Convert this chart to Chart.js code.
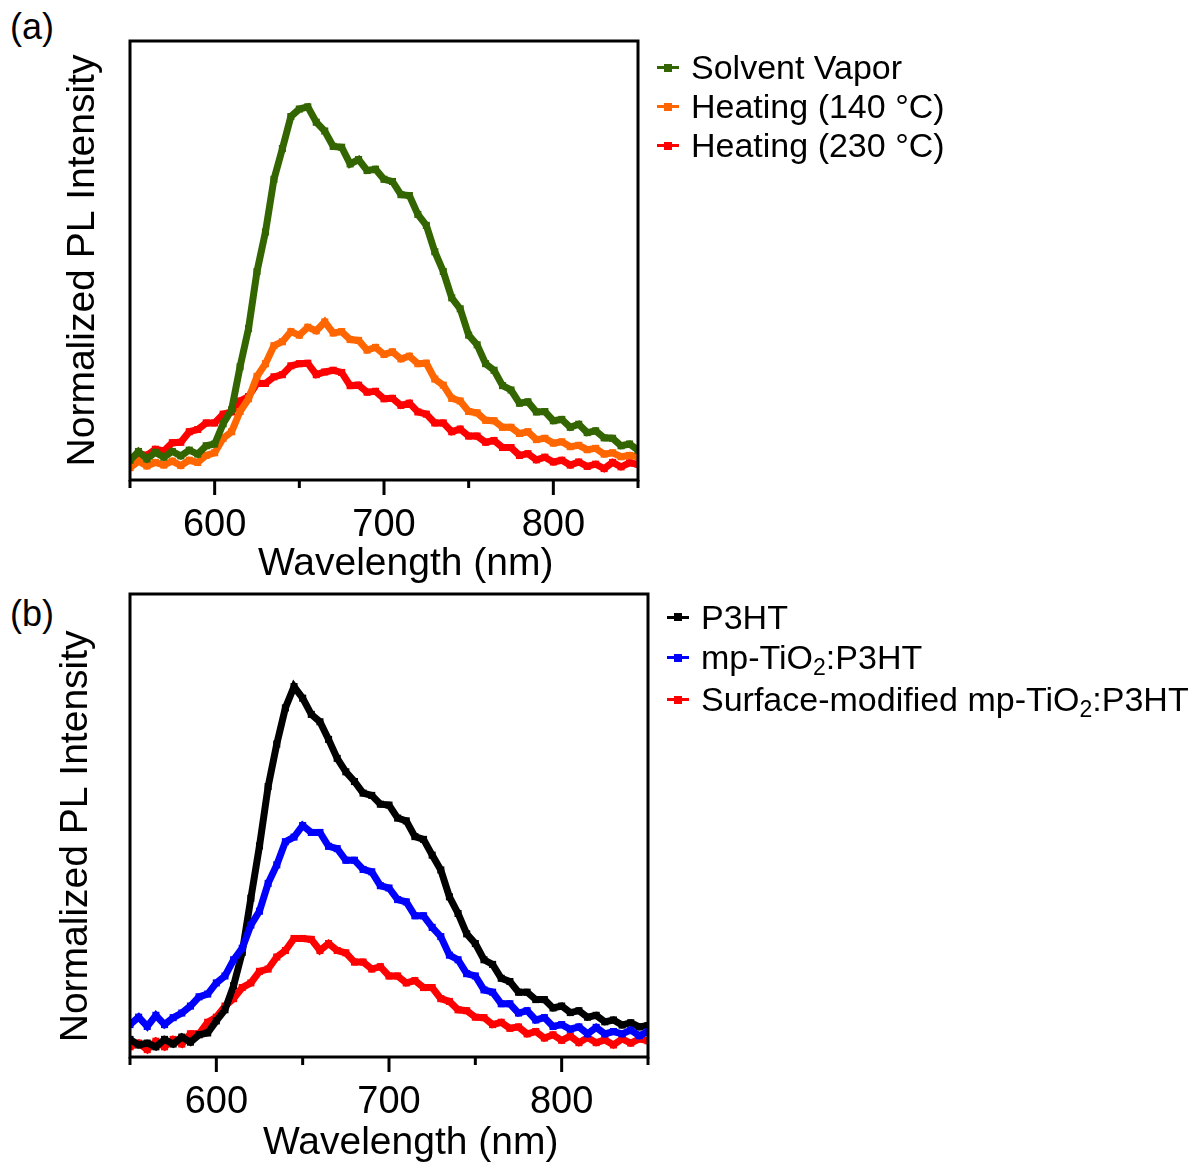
<!DOCTYPE html>
<html>
<head>
<meta charset="utf-8">
<script src="https://cdn.jsdelivr.net/npm/chart.js@4.4.1/dist/chart.umd.min.js"></script>
<style>
  body { margin: 0; background: #fff; overflow: hidden; font-family: "Liberation Sans", Arial, sans-serif; }
  canvas { position: absolute; left: 0; }
  .tag { position: absolute; left: 10px; font-size: 36px; line-height: 36px; }
  .legend { position: absolute; font-size: 34px; color: #000; }
  .legend .row { display: flex; align-items: center; white-space: nowrap; }
  .legend .mark { position: relative; width: 22px; height: 3px; margin-right: 12px; }
  .legend .mark::after { content: ""; position: absolute; left: 7px; top: -2.5px; width: 8px; height: 8px; background: inherit; }
  .legend sub { font-size: 23px; line-height: 0; vertical-align: baseline; position: relative; top: 9px; }
</style>
</head>
<body>
<div class="tag" style="top:9px">(a)</div>
<div class="tag" style="top:596px">(b)</div>
<canvas id="chartA" width="660" height="590" style="top:0"></canvas>
<canvas id="chartB" width="670" height="600" style="top:580px"></canvas>

<div class="legend" style="left:657px; top:48px">
  <div class="row" style="height:39px"><span class="mark" style="background:#336600"></span>Solvent Vapor</div>
  <div class="row" style="height:39px"><span class="mark" style="background:#ff6600"></span>Heating (140 °C)</div>
  <div class="row" style="height:39px"><span class="mark" style="background:#ff0000"></span>Heating (230 °C)</div>
</div>
<div class="legend" style="left:667px; top:597px">
  <div class="row" style="height:40px"><span class="mark" style="background:#000000"></span>P3HT</div>
  <div class="row" style="height:41px"><span class="mark" style="background:#0000ff"></span>mp-TiO<sub>2</sub>:P3HT</div>
  <div class="row" style="height:43px"><span class="mark" style="background:#ff0000"></span>Surface-modified mp-TiO<sub>2</sub>:P3HT</div>
</div>

<script>
// Wavelength grid (nm), shared by every spectrum
const wavelength = [550, 555, 560, 565, 570, 575, 580, 585, 590, 595,
  600, 605, 610, 615, 620, 625, 630, 635, 640, 645,
  650, 655, 660, 665, 670, 675, 680, 685, 690, 695,
  700, 705, 710, 715, 720, 725, 730, 735, 740, 745,
  750, 755, 760, 765, 770, 775, 780, 785, 790, 795,
  800, 805, 810, 815, 820, 825, 830, 835, 840, 845, 850];

// Panel (a) (arb. units, 0-100 of plot height)
const solventVapor = [4.5, 6.5, 4.8, 6.3, 5.2, 6.5, 5.5, 6.8, 5.9, 7.8,
  8.2, 12.8, 16, 25.8, 34.5, 47.5, 56.5, 68.5, 75.5, 82.8,
  84.5, 85, 81.5, 79.5, 76, 75.8, 72, 73, 70.5, 70.8,
  68.5, 68, 65, 64.8, 60.5, 58, 52, 47.5, 41.5, 39,
  33, 30.8, 26.5, 25, 21.5, 20.5, 17.5, 17.8, 15.5, 15.6,
  13.5, 13.8, 12, 12.7, 10.8, 11.2, 9.6, 9.5, 7.8, 8.2, 6.8];
const heating140 = [2.8, 4.3, 3.2, 4, 3.4, 4.3, 3.3, 4.5, 4, 5.6,
  6.2, 9.5, 11, 15.6, 18.5, 23.6, 26.5, 30.6, 31.5, 33.8,
  33, 34.8, 34, 36, 33.5, 33.8, 32, 31.8, 29.6, 30.2,
  28.6, 29.2, 27.6, 28.2, 26.5, 26.6, 23, 21.6, 18.6, 18,
  15.6, 15.3, 13.6, 13.5, 12, 12, 10.6, 11, 9.2, 9.5,
  8.4, 8.7, 7.6, 7.9, 6.9, 7.2, 5.9, 6.2, 5.3, 5.6, 5.3];
const heating230 = [4.6, 6, 5.6, 7, 6.6, 8.5, 8.6, 11, 11.5, 13,
  13, 15, 15.5, 18, 19, 22, 22, 23.5, 24, 26,
  26.5, 26.6, 24, 24.6, 25, 24.5, 21.5, 21.6, 20, 20.2,
  18.5, 18.6, 17, 17.5, 15.5, 15, 13, 13, 11, 11.6,
  10, 10, 8.6, 9, 7.4, 7.4, 5.6, 6, 4.6, 5.2,
  4.1, 4.5, 3.4, 4.1, 3.1, 3.6, 2.6, 4, 3, 3.9, 3.6];

// Panel (b)
const p3ht = [3.8, 2.6, 3, 2.2, 3.8, 2.8, 4.3, 3.2, 4.8, 5.2,
  7.8, 10.2, 15.4, 22.6, 34.3, 45.6, 58.4, 67.6, 75.4, 80,
  77.5, 74, 72.4, 68.6, 64.5, 61.6, 59.5, 57, 56.5, 54.6,
  54.4, 51.6, 51, 47.6, 47, 43.6, 40.4, 34.6, 31, 26.6,
  24.5, 21, 20, 17, 16.3, 14, 14, 12.4, 12.4, 10.6,
  11, 9.6, 10, 8.6, 9, 7.6, 8, 6.9, 7.4, 6.5, 6.8];
const mpTiO2 = [7, 8.6, 6.6, 9, 7, 8.5, 9.5, 11, 13, 13.6,
  16, 17.5, 21, 23.5, 28.5, 31.5, 37.5, 41.5, 46.5, 47.5,
  50, 48.5, 48.5, 45.5, 45, 42.5, 42.5, 40.5, 40, 37,
  36.5, 34, 33.5, 30.5, 30.5, 28, 26, 22, 21, 18,
  17.5, 14.5, 14, 11.5, 11.5, 9.5, 10, 8, 8.5, 6.6,
  7, 6, 6.5, 5, 6.4, 5, 5.5, 5, 5.8, 4.6, 5.5];
const surfaceModified = [2.2, 3, 1.6, 3.4, 2.2, 3.8, 2.8, 5, 5, 7.5,
  8.6, 11, 12.6, 15, 16, 18.5, 19, 21.6, 23, 25.6,
  25.6, 25.4, 23, 24.5, 23, 22.5, 20.5, 20.5, 19, 19.5,
  17.5, 17.5, 16, 16.5, 15, 15, 12.6, 12, 10.2, 10,
  8.6, 8.5, 7, 7.5, 6.2, 6.5, 5, 5.5, 4.1, 4.8,
  3.6, 4.5, 3.1, 4.2, 3.1, 3.7, 2.6, 3.9, 3, 3.9, 3.5];

const xMajorTicks = [600, 700, 800];
const xMinorTicks = [550, 650, 750, 850];

Chart.defaults.font.family = "'Liberation Sans', Arial, sans-serif";
Chart.defaults.color = "#000";

// Frame around the plot area plus outward ticks on the bottom axis
const framePlugin = {
  id: "frame",
  afterDraw(chart) {
    const { ctx, chartArea: a, scales } = chart;
    ctx.save();
    ctx.strokeStyle = "#000";
    ctx.lineWidth = 3;
    ctx.strokeRect(a.left, a.top, a.right - a.left, a.bottom - a.top);
    const tick = (v, len) => {
      const px = scales.x.getPixelForValue(v);
      ctx.beginPath();
      ctx.moveTo(px, a.bottom);
      ctx.lineTo(px, a.bottom + len);
      ctx.stroke();
    };
    xMajorTicks.forEach(v => tick(v, 15));
    xMinorTicks.forEach(v => tick(v, 8));
    ctx.restore();
  }
};

function series(label, values, color) {
  return {
    label,
    data: wavelength.map((x, i) => ({ x, y: values[i] })),
    borderColor: color,
    backgroundColor: color,
    borderWidth: 7,
    pointStyle: "rect",
    pointRadius: 5,
    pointBorderWidth: 0,
    tension: 0
  };
}

function makeChart(id, datasets, opt) {
  return new Chart(document.getElementById(id), {
    type: "line",
    data: { datasets },
    plugins: [framePlugin],
    options: {
      responsive: false,
      animation: false,
      layout: { padding: { top: opt.top, right: opt.right, left: 0, bottom: 0 } },
      plugins: { legend: { display: false }, tooltip: { enabled: false } },
      scales: {
        x: {
          type: "linear",
          min: 550,
          max: 850,
          afterBuildTicks: s => { s.ticks = xMajorTicks.map(v => ({ value: v })); },
          afterFit: s => { s.height = opt.xHeight; },
          grid: { display: false, drawTicks: false, tickLength: 0 },
          border: { display: false },
          ticks: { padding: 23, font: { size: 38 }, color: "#000" },
          // leading spaces push the title right, as in the original figure
          title: { display: true, text: "    Wavelength (nm)", font: { size: 39 }, color: "#000", padding: { top: 0, bottom: opt.xTitlePad } }
        },
        y: {
          min: 0,
          max: 100,
          afterFit: s => { s.width = 130; },
          grid: { display: false, drawTicks: false },
          border: { display: false },
          ticks: { display: false },
          title: { display: true, text: opt.yTitle, font: { size: 39 }, color: "#000", padding: { top: opt.yTitlePad, bottom: 0 } }
        }
      }
    }
  });
}

makeChart("chartA", [
  series("Solvent Vapor", solventVapor, "#336600"),
  series("Heating (140 °C)", heating140, "#ff6600"),
  series("Heating (230 °C)", heating230, "#ff0000")
], { top: 41, right: 22, xHeight: 110, xTitlePad: 2, yTitlePad: 60, yTitle: "Normalized PL Intensity" });

makeChart("chartB", [
  series("mp-TiO2:P3HT", mpTiO2, "#0000ff"),
  series("P3HT", p3ht, "#000000"),
  series("Surface-modified mp-TiO2:P3HT", surfaceModified, "#ff0000")
], { top: 14, right: 22, xHeight: 123, xTitlePad: 13, yTitlePad: 53, yTitle: "Normalized PL Intensity  " });
</script>
</body>
</html>
